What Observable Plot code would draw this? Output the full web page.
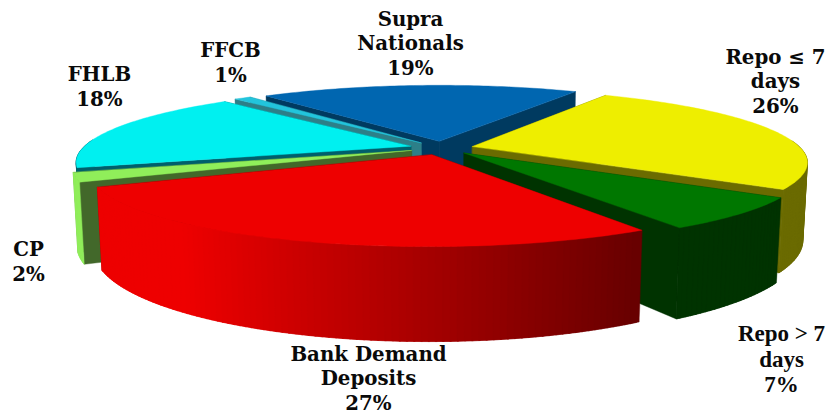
<!DOCTYPE html>
<html>
<head>
<meta charset="utf-8">
<script src="https://cdn.jsdelivr.net/npm/d3@7"></script>
<script src="https://cdn.jsdelivr.net/npm/@observablehq/plot@0.6"></script>
<style>html,body{margin:0;padding:0;background:#fff}svg{display:block}</style>
</head>
<body>
<div id="chart"></div>
<script>
const names = ["Repo ≤ 7\ndays", "Repo > 7\ndays", "Bank Demand\nDeposits", "CP", "FHLB", "FFCB", "Supra\nNationals"];
const values = [26, 7, 27, 2, 18, 1, 19];
const topColors = ["#eeee00", "#007700", "#ee0000", "#90ee5a", "#00f0f0", "#22c4dc", "#0066b0"];
const cutColors = ["#6b6b00", "#003300", "#660000", "#42682a", "#005f6b", "#2d7f88", "#003a60"];
const rimColors = ["#6b6b00", "#003300", "#ee0000", "#90ee5a", "#005f6b", "#2d7f88", "#003a60"];

// view of the tilted, exploded disc
const view = {cx: 441, cy: 147.5, R: 328, minor: 70, depth: 76, persp: 0.205, lift: 0.012, explode: 32, start: 29.8};
const rad = d => d * Math.PI / 180;
const project = (X, Y, d) => {
  const s = 1 / (1 + view.persp * Y / view.R + view.lift * d);
  return {x: view.cx + s * X, y: view.cy + s * (-view.minor * Y / view.R + view.depth * d)};
};

const total = d3.sum(values);
let angle = view.start;
const slices = values.map((v, i) => {
  const a0 = angle, a1 = angle + v / total * 360;
  angle = a1;
  const m = rad((a0 + a1) / 2);
  const ox = view.explode * Math.sin(m), oy = view.explode * Math.cos(m);
  const rim = (a, d) => project(ox + view.R * Math.sin(rad(a)), oy + view.R * Math.cos(rad(a)), d);
  const apex = d => project(ox, oy, d);
  return {i, a0, a1, rim, apex};
});

const rows = [];
let id = 0;
const push = (pts, color) => { id++; for (const p of pts) rows.push({x: p.x, y: p.y, id, color}); };
const redShade = d3.scaleLinear().domain([185, 646]).range(["#ee0000", "#660000"]).clamp(true);

// back to front
for (const i of [6, 5, 4, 0, 3, 1, 2]) {
  const s = slices[i];
  const faces = [
    {a: s.a0, ny: Math.sin(rad(s.a0))},
    {a: s.a1, ny: -Math.sin(rad(s.a1))}
  ].sort((p, q) => q.ny - p.ny);
  for (const f of faces) {
    push([s.apex(0), s.rim(f.a, 0), s.rim(f.a, 1), s.apex(1)], cutColors[i]);
  }
  const step = 1;
  // strips overlap their neighbour so no seam shows between them
  const strips = [];
  for (let a = s.a0; a < s.a1; a += step) strips.push(a);
  if (i === 2) strips.reverse();
  for (const a of strips) {
    const b = Math.min(a + step, s.a1);
    const mid = (a + b) / 2;
    if (Math.cos(rad(mid)) > 0.08) continue;
    const lo = Math.max(a - 0.6, s.a0), hi = Math.min(b + 0.6, s.a1);
    const col = i === 2 ? redShade(s.rim(mid, 0).x) : rimColors[i];
    push([s.rim(lo, 0), s.rim(hi, 0), s.rim(hi, 1), s.rim(lo, 1)], col);
  }
  const top = [s.apex(0)];
  for (let a = s.a0; a < s.a1; a += 1) top.push(s.rim(a, 0));
  top.push(s.rim(s.a1, 0));
  push(top, topColors[i]);
}

const labelAt = [[775, 80], [781, 358], [368, 377], [28, 260], [99, 85], [230, 61], [410, 42]];
const labels = names.map((n, i) => ({text: `${n}\n${values[i]}%`, x: labelAt[i][0], y: labelAt[i][1]}));
const isTimes = d => d.text.startsWith("Repo >");

const plot = Plot.plot({
  width: 827, height: 415,
  margin: 0,
  x: {domain: [0, 827], range: [0, 827], axis: null},
  y: {domain: [0, 415], range: [0, 415], axis: null},
  color: {type: "identity"},
  marks: [
    Plot.line(rows, {x: "x", y: "y", z: "id", fill: "color", stroke: "color", strokeWidth: 0.4, curve: "linear-closed"}),
    Plot.text(labels.filter(d => !isTimes(d)), {x: "x", y: "y", text: "text", fontFamily: "DejaVu Serif", fontWeight: "bold", fontSize: 19.8, lineHeight: 1.26, fill: "#0a0a0a", textAnchor: "middle"}),
    Plot.text(labels.filter(isTimes), {x: "x", y: "y", text: "text", fontFamily: "Liberation Serif", fontWeight: "bold", fontSize: 23, lineHeight: 1.09, fill: "#0a0a0a", textAnchor: "middle"})
  ]
});
document.getElementById("chart").appendChild(plot);
</script>
</body>
</html>
